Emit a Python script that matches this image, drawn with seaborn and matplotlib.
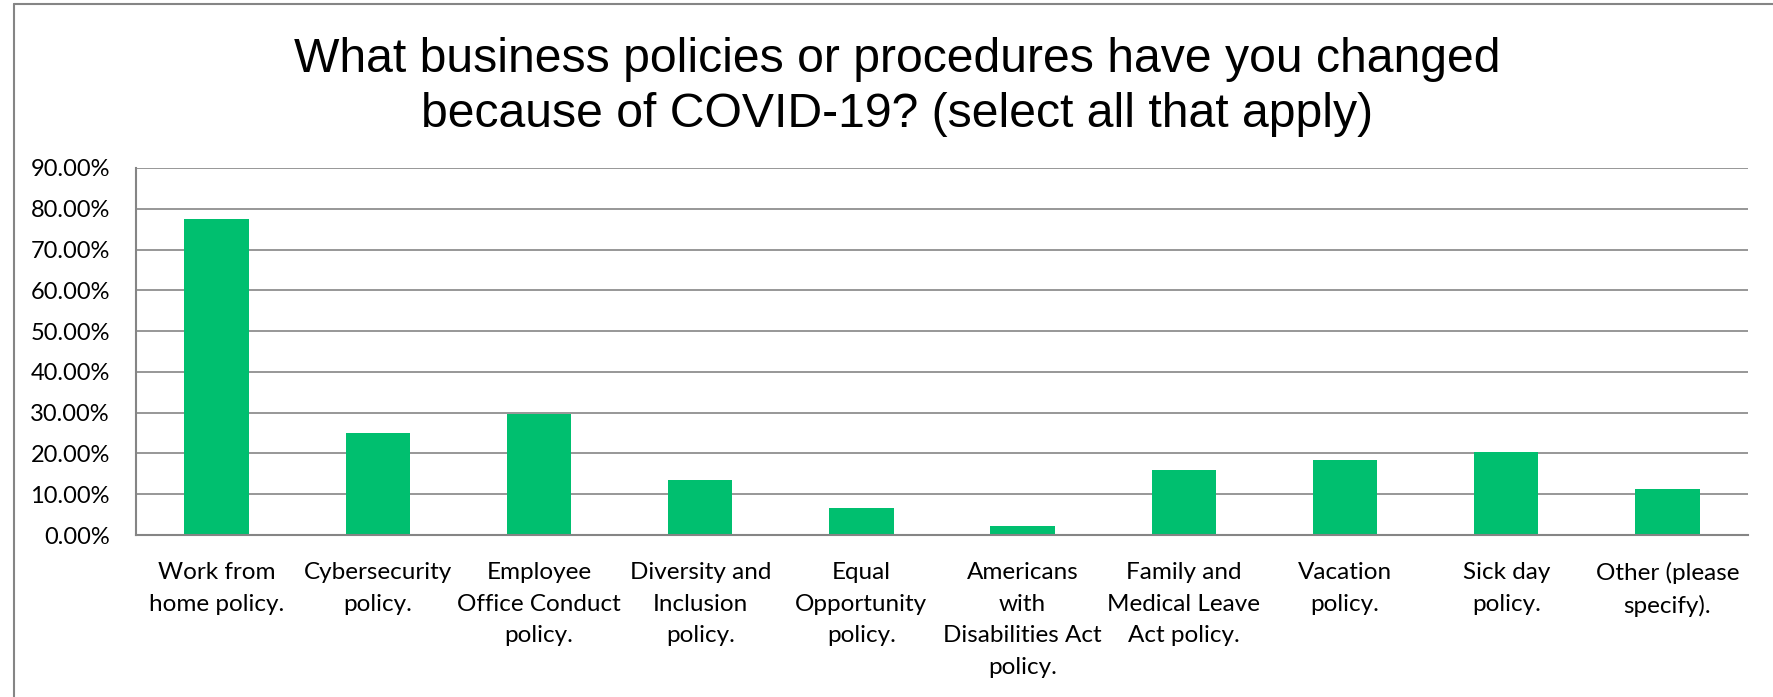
import matplotlib
matplotlib.use("Agg")
import matplotlib.pyplot as plt
from matplotlib.lines import Line2D
from matplotlib.ticker import FixedLocator, PercentFormatter
import seaborn as sns
import pandas as pd

# Survey responses: share of businesses that changed each policy
categories = [
    "Work from\nhome policy.",
    "Cybersecurity\npolicy.",
    "Employee\nOffice Conduct\npolicy.",
    "Diversity and\nInclusion\npolicy.",
    "Equal\nOpportunity\npolicy.",
    "Americans\nwith\nDisabilities Act\npolicy.",
    "Family and\nMedical Leave\nAct policy.",
    "Vacation\npolicy.",
    "Sick day\npolicy.",
    "Other (please\nspecify).",
]
shares = [77.46, 25.00, 29.58, 13.38, 6.57, 2.11, 15.96, 18.31, 20.42, 11.27]
y_ticks = [0, 10, 20, 30, 40, 50, 60, 70, 80, 90]

title = ("What business policies or procedures have you changed\n"
         "because of COVID-19? (select all that apply)")

df = pd.DataFrame({"policy": categories, "share": shares})

sns.set_theme(style="white")
plt.rcParams["font.family"] = ["Lato", "DejaVu Sans"]

W, H = 1773, 697
fig = plt.figure(figsize=(W / 100, H / 100), dpi=100)
ax = fig.add_axes([136 / W, 1 - 535 / H, (1748 - 136) / W, (535 - 168) / H])

GREEN = "#00BF6F"
GREY = "#858585"

sns.barplot(data=df, x="policy", y="share", color=GREEN, width=0.40,
            saturation=1, edgecolor="none", ax=ax)

ax.set_xlim(-0.5, len(categories) - 0.5)
ax.set_ylim(0, 90)
ax.set_xlabel("")
ax.set_ylabel("")

# y axis: percentage labels with horizontal gridlines
ax.yaxis.set_major_locator(FixedLocator(y_ticks))
ax.yaxis.set_major_formatter(PercentFormatter(decimals=2))
ax.grid(axis="y", color=GREY, linewidth=1.2)
ax.set_axisbelow(True)
ax.tick_params(axis="y", which="major", length=5.8, width=1.1, color=GREY,
               direction="out", pad=13, labelsize=17, labelcolor="black")

# x axis: labels at category centres, tick marks at category boundaries
ax.set_xticks(range(len(categories)))
ax.set_xticklabels(categories, fontsize=17.5, linespacing=1.62, color="black")
ax.set_xticks([i - 0.5 for i in range(len(categories) + 1)], minor=True)
ax.tick_params(axis="x", which="major", length=0, pad=19.5)
ax.tick_params(axis="x", which="minor", length=5.8, width=1.1, color=GREY,
               direction="out")
for lbl in ax.get_xticklabels():
    lbl.set_verticalalignment("top")

for side in ("top", "right"):
    ax.spines[side].set_visible(False)
for side in ("left", "bottom"):
    ax.spines[side].set_color(GREY)
    ax.spines[side].set_linewidth(1.5)

# chart title in two centred lines
fig.text(0.506, 1 - 87 / H, title, ha="center", va="center",
         fontsize=34.7, family=["Liberation Sans", "DejaVu Sans"],
         linespacing=1.28, color="black")

# outer chart-area frame (left and top edges)
fig.add_artist(Line2D([13.5 / W, 13.5 / W], [0, 1 - 4 / H], color=GREY,
                      linewidth=1.5, transform=fig.transFigure))
fig.add_artist(Line2D([13.5 / W, 1], [1 - 4 / H, 1 - 4 / H], color=GREY,
                      linewidth=1.5, transform=fig.transFigure))

fig.savefig("out.png", dpi=100, facecolor="white")
